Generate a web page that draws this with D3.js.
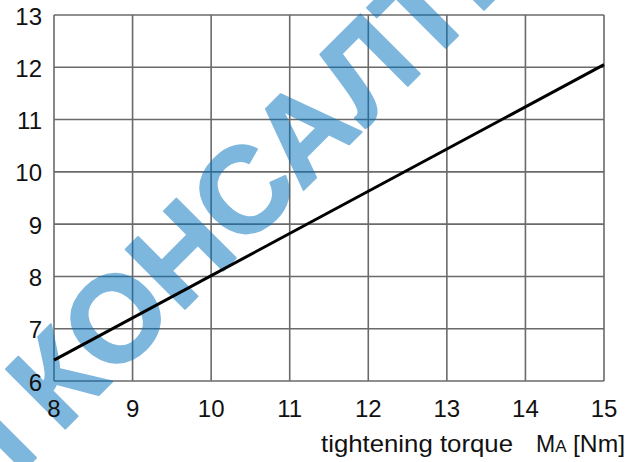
<!DOCTYPE html>
<html><head><meta charset="utf-8">
<script src="https://cdn.jsdelivr.net/npm/d3@7"></script>
<style>html,body{margin:0;padding:0;background:#fff;}svg{display:block;}</style>
</head><body>
<svg id="c" width="643" height="462"></svg>
<script>
const xTicks = [8, 9, 10, 11, 12, 13, 14, 15];
const yTicks = [6, 7, 8, 9, 10, 11, 12, 13];
const torque = [8, 15];
const force = [6.4, 12.05];
const xTitle = "tightening torque";
const xTitleM = "M";
const xTitleSub = "A";
const xTitleUnit = "[Nm]";
const watermarkMain = "КОНСАЛТИНГ";
const watermarkPrev = "Н";

const svg = d3.select("#c");
const m = {l: 54, r: 604, t: 15, b: 381};
const x = d3.scaleLinear().domain([8, 15]).range([m.l, m.r]);
const y = d3.scaleLinear().domain([6, 13]).range([m.b, m.t]);
const font = "'Liberation Sans', Arial, sans-serif";

// grid
const g = svg.append("g");
g.selectAll("line.v").data(xTicks).join("line")
  .attr("x1", d => x(d)).attr("x2", d => x(d)).attr("y1", m.t).attr("y2", m.b)
  .attr("stroke", "#6a6a6a").attr("stroke-width", 1.6);
g.selectAll("line.h").data(yTicks).join("line")
  .attr("y1", d => y(d)).attr("y2", d => y(d)).attr("x1", m.l).attr("x2", m.r)
  .attr("stroke", "#6a6a6a").attr("stroke-width", 1.6);

// watermark
const wm = svg.append("g").attr("opacity", 0.5).attr("fill", "#0071bc")
  .attr("stroke", "#0071bc").attr("stroke-width", 2).attr("stroke-linejoin", "round")
  .style("font-family", font).style("font-weight", 700).style("font-size", "122px");
const toXY = (u, v) => [(u + v) / Math.SQRT2, (v - u) / Math.SQRT2];
const base = 349;
let p = toXY(-265, base);
wm.append("text").attr("transform", `translate(${p[0]},${p[1]}) rotate(-45)`).attr("text-anchor", "start").text(watermarkMain);
p = toXY(-290, base);
wm.append("text").attr("transform", `translate(${p[0]},${p[1]}) rotate(-45)`).attr("text-anchor", "end").text(watermarkPrev);

// line
const line = d3.line().x(d => x(d[0])).y(d => y(d[1]));
svg.append("path").datum(torque.map((t, i) => [t, force[i]]))
  .attr("d", line).attr("fill", "none").attr("stroke", "#000").attr("stroke-width", 3);

// y labels
svg.append("g").selectAll("text").data(yTicks).join("text")
  .attr("x", 42).attr("y", d => y(d) + 9.5).attr("text-anchor", "end")
  .style("font-family", font).style("font-size", "24px").attr("fill", "#111").text(d => d);

// x labels
svg.append("g").selectAll("text").data(xTicks).join("text")
  .attr("x", d => x(d)).attr("y", 417).attr("text-anchor", "middle")
  .style("font-family", font).style("font-size", "24px").attr("fill", "#111").text(d => d);

// x title
const tt = svg.append("text").attr("y", 452)
  .style("font-family", font).style("font-size", "24px").attr("fill", "#111");
tt.append("tspan").attr("x", 321).attr("textLength", 192).attr("lengthAdjust", "spacingAndGlyphs").text(xTitle);
tt.append("tspan").attr("x", 536).style("font-size", "23px").text(xTitleM);
tt.append("tspan").style("font-size", "17px").text(xTitleSub);
tt.append("tspan").attr("x", 573).attr("textLength", 52).attr("lengthAdjust", "spacingAndGlyphs").text(xTitleUnit);
</script>
</body></html>
